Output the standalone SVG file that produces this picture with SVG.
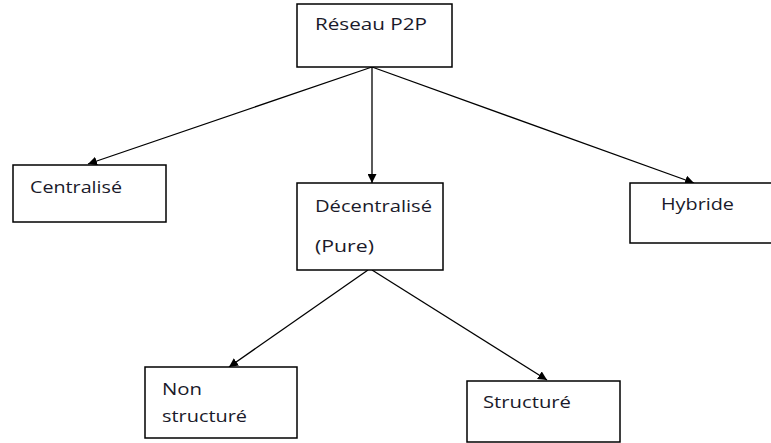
<svg xmlns="http://www.w3.org/2000/svg" width="771" height="443" viewBox="0 0 771 443">
<defs>
<marker id="ah" viewBox="0 0 10 10" refX="10" refY="5" markerWidth="9" markerHeight="9" markerUnits="userSpaceOnUse" orient="auto">
<path d="M0,0 L10,5 L0,10 z" fill="#000"/>
</marker>
</defs>
<style>
.box{fill:#fff;stroke:#000;stroke-width:1.5}
.lbl{font-family:"Open Sans","Liberation Sans",sans-serif;font-size:17px;fill:#1a1a2a}
.edge{stroke:#000;stroke-width:1.3;fill:none;marker-end:url(#ah)}
</style>
<rect width="771" height="443" fill="#fff"/>
<g id="connectors">
<line class="edge" x1="372" y1="67" x2="88" y2="164"/>
<line class="edge" x1="372" y1="67" x2="372" y2="183"/>
<line class="edge" x1="372" y1="67" x2="694" y2="183"/>
<line class="edge" x1="368" y1="270" x2="229" y2="367"/>
<line class="edge" x1="372" y1="270" x2="547" y2="380"/>
</g>
<g id="n-reseau">
<rect class="box" x="297" y="4" width="155" height="63"/>
<text class="lbl" x="315" y="30" textLength="112" lengthAdjust="spacingAndGlyphs">Réseau P2P</text>
</g>
<g id="n-centralise">
<rect class="box" x="13" y="165" width="153" height="57"/>
<text class="lbl" x="30" y="193" textLength="92" lengthAdjust="spacingAndGlyphs">Centralisé</text>
</g>
<g id="n-decentralise">
<rect class="box" x="297" y="183" width="146" height="87"/>
<text class="lbl" x="315" y="212" textLength="117" lengthAdjust="spacingAndGlyphs">Décentralisé</text>
<text class="lbl" x="315" y="252" textLength="59" lengthAdjust="spacingAndGlyphs">(Pure)</text>
</g>
<g id="n-hybride">
<rect class="box" x="630" y="183" width="150" height="60"/>
<text class="lbl" x="661" y="210" textLength="73" lengthAdjust="spacingAndGlyphs">Hybride</text>
</g>
<g id="n-nonstructure">
<rect class="box" x="145" y="367" width="152" height="71"/>
<text class="lbl" x="162" y="395" textLength="40" lengthAdjust="spacingAndGlyphs">Non</text>
<text class="lbl" x="162" y="422" textLength="85" lengthAdjust="spacingAndGlyphs">structuré</text>
</g>
<g id="n-structure">
<rect class="box" x="467" y="381" width="153" height="61"/>
<text class="lbl" x="483" y="408" textLength="88" lengthAdjust="spacingAndGlyphs">Structuré</text>
</g>
</svg>
